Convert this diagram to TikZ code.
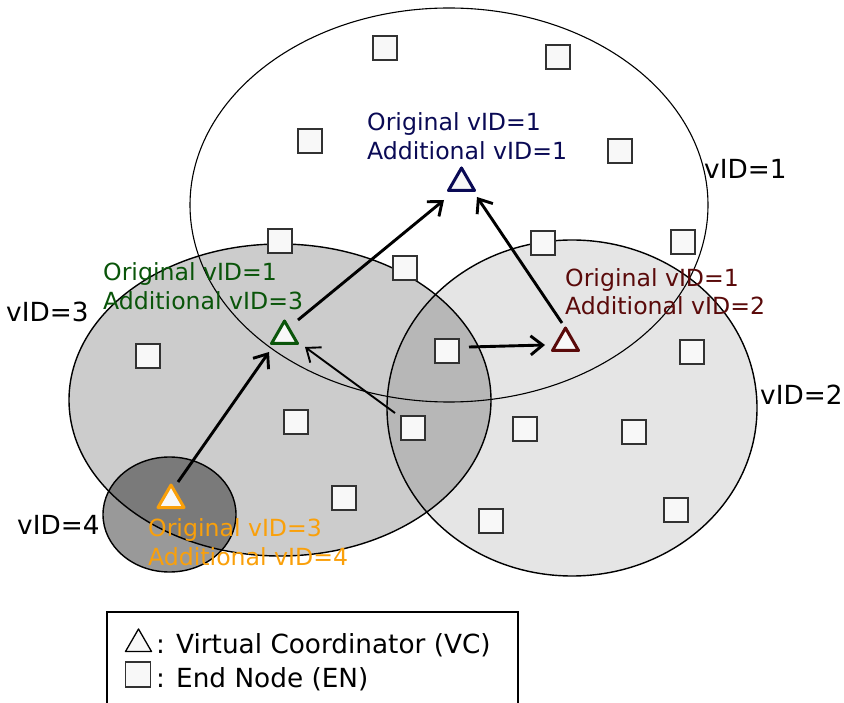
\documentclass[tikz,border=0pt]{standalone}
\usepackage{fontspec}
\setmainfont{DejaVu Sans}
\usetikzlibrary{arrows.meta,shapes.geometric}
\definecolor{cblue}{RGB}{10,10,85}
\definecolor{cgreen}{RGB}{10,85,10}
\definecolor{cred}{RGB}{90,10,10}
\definecolor{corange}{RGB}{250,160,10}
\definecolor{sqfill}{RGB}{248,248,248}
\definecolor{sqline}{RGB}{50,50,50}
\begin{document}
\begin{tikzpicture}[x=1pt,y=-1pt,
  en/.style={rectangle,draw=sqline,fill=sqfill,line width=1.8pt,minimum size=24pt,inner sep=0pt},
  vc/.style={regular polygon,regular polygon sides=3,draw=#1,fill=sqfill,line width=3pt,minimum size=30pt,inner sep=0pt,line join=round},
  arr/.style={line width=2.9pt,-{Straight Barb[length=12pt,width=19pt]}},
  thinarr/.style={line width=1.9pt,-{Straight Barb[length=12pt,width=19pt]}},
  lab/.style={anchor=base west,inner sep=0pt,font=\fontsize{23.6}{28}\selectfont},
  vid/.style={anchor=base west,inner sep=0pt,font=\fontsize{26.3}{30}\selectfont},
  zone/.style={draw=black,line width=1.4pt,fill=black,fill opacity=#1},
]
\useasboundingbox (0,0) rectangle (844,703);
\fill[white] (0,0) rectangle (844,703);

% zones
\path[zone=0.2] (280,400) ellipse [x radius=211pt, y radius=156pt];
\path[zone=0.1] (572,408) ellipse [x radius=185pt, y radius=168pt];
\path[zone=0.4] (169.5,514.5) ellipse [x radius=66.5pt, y radius=57.5pt];
\draw[line width=1.1pt] (449,205) ellipse [x radius=259pt, y radius=197pt];

% end nodes
\node[en] (s1) at (385,48) {};
\node[en] (s2) at (558,57) {};
\node[en] (s3) at (310,141) {};
\node[en] (s4) at (620,151) {};
\node[en] (s5) at (280,241) {};
\node[en] (s6) at (543,243) {};
\node[en] (s7) at (683,242) {};
\node[en] (s8) at (405,268) {};
\node[en] (s9) at (148,356) {};
\node[en] (s10) at (296,422) {};
\node[en] (s11) at (344,498) {};
\node[en] (s12) at (447,351) {};
\node[en] (s13) at (413,428) {};
\node[en] (s14) at (525,429) {};
\node[en] (s15) at (634,432) {};
\node[en] (s16) at (692,352) {};
\node[en] (s17) at (491,521) {};
\node[en] (s18) at (676,510) {};

% virtual coordinators
\node[vc=cblue] (vb) at (461.5,183) {};
\node[vc=cgreen] (vg) at (284.5,336) {};
\node[vc=cred] (vr) at (565.5,343) {};
\node[vc=corange] (vo) at (171,500) {};

% connectors
\draw[arr] ([shift={(7,-18)}]vo.center) -- ([shift={(-15.5,16)}]vg.center);
\draw[arr] ([shift={(13.5,-16)}]vg.center) -- ([shift={(-17.5,17)}]vb.center);
\draw[thinarr] ([shift={(-18,-15)}]s13.center) -- ([shift={(20.5,11)}]vg.center);
\draw[arr] ([shift={(22,-4)}]s12.center) -- ([shift={(-20.5,2)}]vr.center);
\draw[arr] ([shift={(-3.5,-20)}]vr.center) -- ([shift={(15.5,14)}]vb.center);

% labels
\node[lab,text=cblue] (b1) at (367,131) {Original vID=1};
\node[lab,text=cblue] (b2) at (367,160) {Additional vID=1};
\node[lab,text=cgreen] (g1) at (103,281) {Original vID=1};
\node[lab,text=cgreen] (g2) at (103,310) {Additional vID=3};
\node[lab,text=cred] (r1) at (565,287) {Original vID=1};
\node[lab,text=cred] (r2) at (565,315) {Additional vID=2};
\node[lab,text=corange] (o1) at (148,536) {Original vID=3};
\node[lab,text=corange] (o2) at (148,565) {Additional vID=4};

\node[vid] (z1) at (704,179) {vID=1};
\node[vid] (z2) at (760,405) {vID=2};
\node[vid] (z3) at (6,322) {vID=3};
\node[vid] (z4) at (17,534) {vID=4};

% legend
\draw[line width=1.5pt] (107,703) -- (107,612) -- (518,612) -- (518,703);
\node[regular polygon,regular polygon sides=3,draw=black,fill=sqfill,line width=1.3pt,minimum size=30pt,inner sep=0pt,line join=round] (lt) at (138.5,644) {};
\node[rectangle,draw=sqline,fill=sqfill,line width=1.3pt,minimum size=25pt,inner sep=0pt] (ls) at (138,674.5) {};
\node[vid] (l1) at (156,653) {: Virtual Coordinator (VC)};
\node[vid] (l2) at (156,687) {: End Node (EN)};
\end{tikzpicture}
\end{document}
